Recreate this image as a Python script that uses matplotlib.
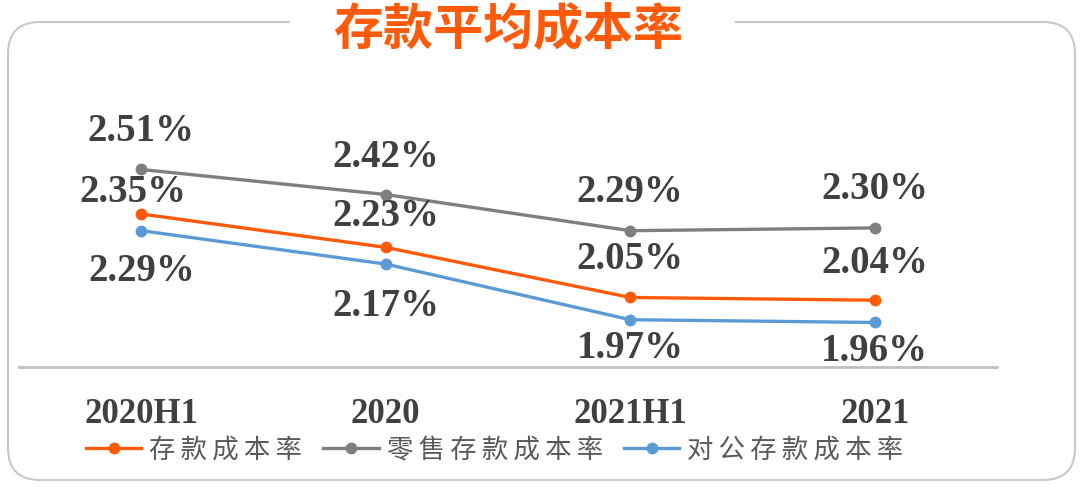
import matplotlib.pyplot as plt
from matplotlib.patches import FancyBboxPatch, Rectangle

plt.rcParams['font.family'] = ['Noto Sans CJK SC', 'DejaVu Sans']

periods = ["2020H1", "2020", "2021H1", "2021"]
total_rate = [2.35, 2.23, 2.05, 2.04]
retail_rate = [2.51, 2.42, 2.29, 2.30]
corporate_rate = [2.29, 2.17, 1.97, 1.96]
series_names = ["存款成本率", "零售存款成本率", "对公存款成本率"]
title = "存款平均成本率"

orange = "#FF5A0A"
gray = "#7F7F7F"
blue = "#5B9BD5"
text_col = "#404040"

fig = plt.figure(figsize=(10.8, 4.87), dpi=100)

# background axes in pixel units for the rounded frame
bg = fig.add_axes([0, 0, 1, 1])
bg.set_xlim(0, 1080)
bg.set_ylim(487, 0)
bg.axis("off")
frame = FancyBboxPatch((8, 22), 1067, 458, boxstyle="round,pad=0,rounding_size=32",
                       fc="white", ec="#c8c8c8", lw=1.5)
bg.add_patch(frame)
bg.add_patch(Rectangle((290, 12), 445, 22, fc="white", ec="none"))
bg.text(508, 30, title, ha="center", va="center", fontsize=36, fontweight="bold",
        color=orange)

ax = fig.add_axes([19 / 1080, 1 - 367 / 487, 978 / 1080, 306 / 487])
ax.patch.set_alpha(0)
x = list(range(len(periods)))
for vals, col, name in [(total_rate, orange, series_names[0]),
                        (retail_rate, gray, series_names[1]),
                        (corporate_rate, blue, series_names[2])]:
    ax.plot(x, vals, color=col, lw=2.4, marker="o", ms=7.5, label="\u2009".join(name))

ax.set_xlim(-0.5, 3.5)
ax.set_ylim(1.8, 2.9)
for s in ["top", "left", "right"]:
    ax.spines[s].set_visible(False)
ax.spines["bottom"].set_color("#bfbfbf")
ax.spines["bottom"].set_linewidth(2)
ax.set_yticks([])
ax.set_xticks(x)
ax.set_xticklabels(periods, family=["Liberation Serif"], fontweight="bold",
                   fontsize=25, color=text_col)
ax.tick_params(axis="x", length=0, pad=22)

lab_font = dict(family=["Liberation Serif"], fontweight="bold", fontsize=28,
                color=text_col, ha="center", va="center")
retail_off = [(0, 38), (0, 37), (0, 38), (0, 38)]
total_off = [(-8, 22), (0, 31), (0, 38), (0, 37)]
corp_off = [(0, -41), (0, -42), (0, -29), (0, -29)]
for i in x:
    ax.annotate(f"{retail_rate[i]:.2f}%", (i, retail_rate[i]), xytext=retail_off[i],
                textcoords="offset pixels", **lab_font)
    ax.annotate(f"{total_rate[i]:.2f}%", (i, total_rate[i]), xytext=total_off[i],
                textcoords="offset pixels", **lab_font)
    ax.annotate(f"{corporate_rate[i]:.2f}%", (i, corporate_rate[i]), xytext=corp_off[i],
                textcoords="offset pixels", **lab_font)

fig.legend(loc="center", bbox_to_anchor=(0.458, 1 - 450 / 487), ncol=3, frameon=False,
           prop={"size": 19}, labelcolor="#595959", handlelength=2.1,
           handletextpad=0.3, columnspacing=0.8)

fig.savefig("out.png", dpi=100)
